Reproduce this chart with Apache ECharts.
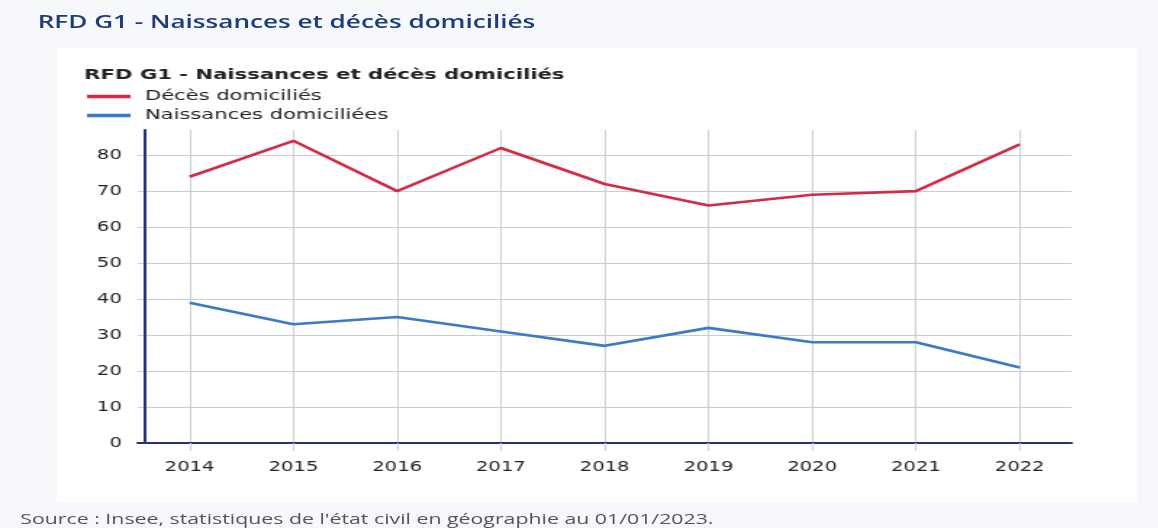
<!DOCTYPE html>
<html><head><meta charset="utf-8">
<script src="https://cdn.jsdelivr.net/npm/echarts@6/dist/echarts.min.js"></script>
<style>
html,body{margin:0;padding:0;background:#f6f8fc;overflow:hidden;}
#wrap{position:absolute;left:0;top:0;width:799px;height:528px;transform:scaleX(1.45);transform-origin:0 0;}
#outerTitle{position:absolute;left:26px;top:9px;font:600 18px "Open Sans",sans-serif;color:#1e3c78;white-space:nowrap;}
#panel{position:absolute;left:39px;top:48px;width:745px;height:454px;background:#fff;}
#chart{position:absolute;left:0;top:0;width:799px;height:528px;}
#source{position:absolute;left:14px;top:508px;font:14.7px "Open Sans",sans-serif;color:#555;white-space:nowrap;}
</style></head>
<body>
<div id="wrap">
<div id="outerTitle">RFD G1 - Naissances et décès domiciliés</div>
<div id="panel"></div>
<div id="chart"></div>
<div id="source">Source : Insee, statistiques de l'état civil en géographie au 01/01/2023.</div>
</div>
<script>
const years = ['2014','2015','2016','2017','2018','2019','2020','2021','2022'];
const deces = [74, 84, 70, 82, 72, 66, 69, 70, 83];
const naissances = [39, 33, 35, 31, 27, 32, 28, 28, 21];
const seriesNames = ['Décès domiciliés', 'Naissances domiciliées'];

const chart = echarts.init(document.getElementById('chart'));
chart.setOption({
  animation: false,
  backgroundColor: 'transparent',
  title: {
    text: 'RFD G1 - Naissances et décès domiciliés',
    left: 53, top: 63,
    textStyle: {fontFamily: 'DejaVu Sans', fontSize: 14.6, fontWeight: 'bold', color: '#222'}
  },
  legend: {
    orient: 'vertical', left: 55, top: 84, itemGap: 4,
    itemWidth: 30, itemHeight: 3.5, icon: 'rect',
    textStyle: {fontFamily: 'DejaVu Sans', fontSize: 14.5, lineHeight: 15, color: '#222', padding: [0,0,0,5]},
    data: seriesNames
  },
  grid: {left: 95, right: 60, top: 130, bottom: 528 - 443},
  xAxis: {
    type: 'category', data: years, boundaryGap: true,
    axisLine: {lineStyle: {color: '#253278', width: 2}},
    axisTick: {show: true, alignWithLabel: true, length: 8, lineStyle: {color: '#c8ced8'}},
    splitLine: {show: true, alignWithLabel: true, lineStyle: {color: '#c8ced8', width: 1}},
    axisLabel: {fontFamily: 'DejaVu Sans', fontSize: 13.5, color: '#222', margin: 17}
  },
  yAxis: {
    type: 'value', min: 0, max: 87, interval: 10, offset: -5,
    axisLine: {show: true, lineStyle: {color: '#253278', width: 2}},
    axisTick: {show: false},
    splitLine: {show: true, showMaxLine: false, lineStyle: {color: '#c8ced8', width: 1}},
    axisLabel: {fontFamily: 'DejaVu Sans', fontSize: 13.5, color: '#222', margin: 16, showMaxLabel: false,
      formatter: v => (v % 10 === 0 ? String(v) : '')}
  },
  series: [
    {name: seriesNames[0], type: 'line', data: deces, symbol: 'none',
     lineStyle: {color: '#d52a43', width: 2.6}, itemStyle: {color: '#d52a43'}},
    {name: seriesNames[1], type: 'line', data: naissances, symbol: 'none',
     lineStyle: {color: '#3b7ac6', width: 2.6}, itemStyle: {color: '#3b7ac6'}}
  ]
});
</script>
</body></html>
